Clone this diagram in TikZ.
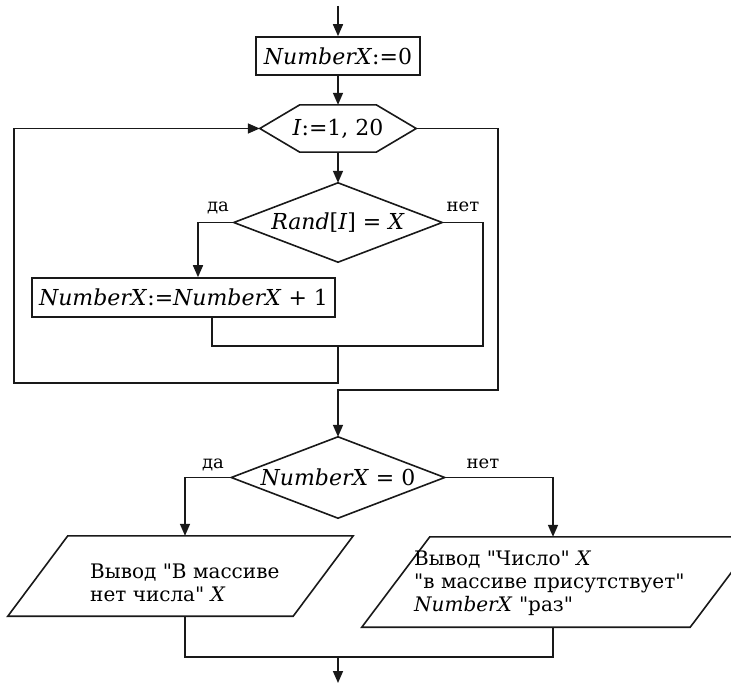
\documentclass[tikz,border=0pt]{standalone}
\usepackage{fontspec}
% no TeX mapping, so that " stays a straight double quote
\setmainfont{DejaVu Serif}[Ligatures=TeXOff]
\usetikzlibrary{arrows.meta,calc}

% font sizes for the flowchart
\newcommand\fcBox{\fontsize{22bp}{26bp}\selectfont}
\newcommand\fcLbl{\fontsize{18bp}{22bp}\selectfont}
\newcommand\fcIO{\fontsize{20bp}{23bp}\selectfont}

\tikzset{
  flow/.style={line width=1.6bp, draw=black!90, line join=miter},
  arr/.style={flow, -{Triangle[length=12bp,width=10bp]}},
  procbox/.style={draw=black!90, line width=1.6bp, inner sep=0pt, font=\fcBox},
  frame/.style={draw=none, inner sep=0pt, font=\fcBox},
  lbl/.style={font=\fcLbl, anchor=base, inner sep=0pt},
  iotext/.style={font=\fcIO, align=left, anchor=west, inner sep=0pt},
}

\begin{document}
\begin{tikzpicture}[x=1bp, y=-1bp]
\useasboundingbox (0,0) rectangle (731,684);
\fill[white] (0,0) rectangle (731,684);
\clip (0,0) rectangle (731,684);

% --- blocks ---
\node[procbox, minimum width=164bp, minimum height=38bp] (init) at (338,56)
  {\textit{NumberX}:=0};
\node[frame, minimum width=156bp, minimum height=47bp] (loop) at (338,128.5)
  {\textit{I}:=1, 20};
\node[frame, minimum width=208bp, minimum height=79bp] (cmp) at (338,222.5)
  {\textit{Rand}[\textit{I}] = \textit{X}};
\node[procbox, minimum width=303bp, minimum height=39bp] (inc) at (183.5,297.5)
  {\textit{NumberX}:=\textit{NumberX} + 1};
\node[frame, minimum width=213bp, minimum height=81bp] (zero) at (338,477.5)
  {\textit{NumberX} = 0};
\node[frame, minimum width=345bp, minimum height=80bp] (outno) at (180.5,576) {};
\node[frame, minimum width=396bp, minimum height=90bp] (outyes) at (560,582) {};

% outlines of the loop header, the decisions and the output blocks
\draw[flow] (loop.west) -- ([xshift=40bp]loop.north west) -- ([xshift=-40bp]loop.north east)
  -- (loop.east) -- ([xshift=-40bp]loop.south east) -- ([xshift=40bp]loop.south west) -- cycle;
\draw[flow] (cmp.north) -- (cmp.east) -- (cmp.south) -- (cmp.west) -- cycle;
\draw[flow] (zero.north) -- (zero.east) -- (zero.south) -- (zero.west) -- cycle;
\draw[flow] ([xshift=60bp]outno.north west) -- (outno.north east)
  -- ([xshift=-60bp]outno.south east) -- (outno.south west) -- cycle;
\draw[flow] ([xshift=68bp]outyes.north west) -- (outyes.north east)
  -- ([xshift=-68bp]outyes.south east) -- (outyes.south west) -- cycle;

% texts of the output blocks
\node[iotext] (outnotext) at (90,583)
  {Вывод "В массиве\\нет числа" \textit{X}};
\node[iotext] (outyestext) at (414,583)
  {Вывод "Число" \textit{X}\\"в массиве присутствует"\\\textit{NumberX} "раз"};

% branch labels
\node[lbl] (yes1) at (218,211) {да};
\node[lbl] (no1) at (463,211) {нет};
\node[lbl] (yes2) at (213,468) {да};
\node[lbl] (no2) at (483,468) {нет};

% --- bend points of the connectors ---
\coordinate (entry) at (338,6);
\coordinate (jr) at (483,346);
\coordinate (join) at (338,346);
\coordinate (back) at (14,383);
\coordinate (exitR) at (498,390);
\coordinate (merge) at (338,657);
\coordinate (exit) at (338,683);

% --- connectors ---
\draw[arr] (entry) -- (init);
\draw[arr] (init) -- (loop);
\draw[arr] (loop) -- (cmp);
\draw[arr] (cmp.west) -| ([xshift=14.5bp]inc.north);
\draw[flow] (cmp.east) -| (jr) -| ([xshift=28.5bp]inc.south);
\draw[arr] (join) |- (back) |- (loop.west);
\draw[arr] (loop.east) -| (exitR) -| (zero.north);
\draw[arr] (zero.west) -| ([xshift=4.5bp]outno.north);
\draw[arr] (zero.east) -| ([xshift=-7bp]outyes.north);
\draw[flow] ([xshift=4.5bp]outno.south) |- (merge) -| ([xshift=-7bp]outyes.south);
\draw[arr] (merge) -- (exit);
\end{tikzpicture}
\end{document}
